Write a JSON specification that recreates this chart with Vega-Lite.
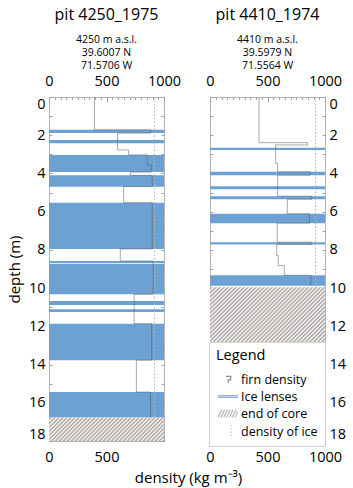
{
  "$schema": "https://vega.github.io/schema/vega-lite/v6.json",
  "padding": {"left": 6, "top": 6, "right": 3, "bottom": 4},
  "bounds": "flush",
  "spacing": 46,
  "config": {
    "font": "Open Sans",
    "view": {"stroke": "#b3b3b3", "strokeWidth": 1},
    "axis": {"domain": false, "grid": false, "labelFontSize": 14.5, "labelColor": "#000", "labelFont": "Open Sans", "labelFlush": false, "labelOverlap": false, "tickColor": "#a0a0a0", "titleFontWeight": "normal", "titleFontSize": 15, "titleColor": "#000", "titleFont": "Open Sans", "zindex": 1},
    "axisY": {"labelFlush": true},
    "title": {"fontSize": 16, "fontWeight": "normal", "color": "#000", "font": "Open Sans", "subtitleFont": "Open Sans", "subtitleFontSize": 10.5, "subtitleColor": "#000", "subtitlePadding": 12, "subtitleLineHeight": 13, "offset": -1, "anchor": "middle", "frame": "group"}
  },
  "resolve": {"scale": {"color": "independent", "shape": "independent"}},
  "hconcat": [
    {
      "width": 115,
      "height": 344,
      "title": {"text": "pit 4250_1975", "subtitle": ["4250 m a.s.l.", "39.6007 N", "71.5706 W"]},
      "resolve": {"axis": {"x": "independent", "y": "independent"}},
      "layer": [
        {
          "data": {"values": [{"top": 1.72, "bottom": 1.89}, {"top": 2.25, "bottom": 2.42}, {"top": 3.03, "bottom": 3.93}, {"top": 4.10, "bottom": 4.69}, {"top": 5.53, "bottom": 7.95}, {"top": 8.58, "bottom": 8.70}, {"top": 8.74, "bottom": 10.32}, {"top": 10.67, "bottom": 10.89}, {"top": 11.10, "bottom": 11.25}, {"top": 11.86, "bottom": 13.77}, {"top": 15.44, "bottom": 16.77}]},
          "mark": {"type": "rect", "fill": "#6ca1d3"},
          "encoding": {
            "x": {"datum": 0, "type": "quantitative", "scale": {"domain": [0, 1000], "nice": false}, "axis": {"orient": "top", "values": [0, 50, 100, 150, 200, 250, 300, 350, 400, 450, 500, 550, 600, 650, 700, 750, 800, 850, 900, 950, 1000], "format": "d", "labelExpr": "datum.value % 500 === 0 ? datum.label : ''", "tickSize": {"condition": {"test": "datum.value % 500 === 0", "value": -5}, "value": -2.5}, "labelPadding": 14, "title": null}},
            "x2": {"datum": 1000},
            "y": {"field": "top", "type": "quantitative", "scale": {"domain": [0, 18], "reverse": true, "nice": false}, "axis": {"orient": "left", "values": [0, 1, 2, 3, 4, 5, 6, 7, 8, 9, 10, 11, 12, 13, 14, 15, 16, 17, 18], "labelExpr": "datum.value % 2 === 0 ? datum.label : ''", "tickSize": -3, "labelPadding": 7, "title": "depth (m)", "titlePadding": 6}},
            "y2": {"field": "bottom"}
          }
        },
        {
          "data": {"values": [{"ice": 917}]},
          "mark": {"type": "rule", "color": "#b5b5b5", "strokeDash": [1.5, 2], "strokeWidth": 1},
          "encoding": {"x": {"field": "ice", "type": "quantitative", "axis": null}}
        },
        {
          "data": {"values": [
            {"i": 0, "density": 395, "depth": 0}, {"i": 1, "density": 395, "depth": 1.72}, {"i": 2, "density": 883, "depth": 1.72}, {"i": 3, "density": 883, "depth": 1.89},
            {"i": 4, "density": 596, "depth": 1.89}, {"i": 5, "density": 596, "depth": 2.77}, {"i": 6, "density": 693, "depth": 2.77}, {"i": 7, "density": 693, "depth": 3.03},
            {"i": 8, "density": 854, "depth": 3.03}, {"i": 9, "density": 854, "depth": 3.56}, {"i": 10, "density": 889, "depth": 3.56}, {"i": 11, "density": 889, "depth": 3.93},
            {"i": 12, "density": 708, "depth": 3.93}, {"i": 13, "density": 708, "depth": 4.10}, {"i": 14, "density": 898, "depth": 4.10}, {"i": 15, "density": 898, "depth": 4.69},
            {"i": 16, "density": 649, "depth": 4.69}, {"i": 17, "density": 649, "depth": 5.53}, {"i": 18, "density": 898, "depth": 5.53}, {"i": 19, "density": 898, "depth": 7.95},
            {"i": 20, "density": 620, "depth": 7.95}, {"i": 21, "density": 620, "depth": 8.58}, {"i": 22, "density": 906, "depth": 8.58}, {"i": 23, "density": 906, "depth": 10.32},
            {"i": 24, "density": 740, "depth": 10.32}, {"i": 25, "density": 740, "depth": 11.86}, {"i": 26, "density": 892, "depth": 11.86}, {"i": 27, "density": 892, "depth": 13.77},
            {"i": 28, "density": 760, "depth": 13.77}, {"i": 29, "density": 760, "depth": 15.44}, {"i": 30, "density": 883, "depth": 15.44}, {"i": 31, "density": 883, "depth": 16.77}
          ]},
          "mark": {"type": "line", "color": "#555555", "opacity": 0.5, "strokeWidth": 1},
          "encoding": {
            "x": {"field": "density", "type": "quantitative", "axis": {"orient": "bottom", "values": [0, 50, 100, 150, 200, 250, 300, 350, 400, 450, 500, 550, 600, 650, 700, 750, 800, 850, 900, 950, 1000], "format": "d", "labelExpr": "datum.value === 0 || datum.value === 500 ? datum.label : ''", "tickSize": {"condition": {"test": "datum.value % 500 === 0", "value": -5}, "value": -2.5}, "labelPadding": 14, "title": "density (kg m⁻³)", "titleX": 139, "titleY": 41, "titleAlign": "center", "titleBaseline": "alphabetic"}},
            "y": {"field": "depth", "type": "quantitative", "axis": {"orient": "right", "values": [0, 1, 2, 3, 4, 5, 6, 7, 8, 9, 10, 11, 12, 13, 14, 15, 16, 17, 18], "labels": false, "tickSize": -3, "title": null}},
            "order": {"field": "i"}
          }
        },
        {
          "data": {"values": [{"top": 16.77, "bottom": 18}]},
          "mark": {"type": "rect", "fill": {"gradient": "linear", "x1": 0, "y1": 0, "x2": 1.668, "y2": 0.3412, "stops": [
            {"offset": 0, "color": "#fff"}, {"offset": 0.01, "color": "#a29d98"}, {"offset": 0.02, "color": "#fff"}, {"offset": 0.03, "color": "#a29d98"}, {"offset": 0.04, "color": "#fff"}, {"offset": 0.05, "color": "#a29d98"}, {"offset": 0.06, "color": "#fff"}, {"offset": 0.07, "color": "#a29d98"}, {"offset": 0.08, "color": "#fff"}, {"offset": 0.09, "color": "#a29d98"},
            {"offset": 0.1, "color": "#fff"}, {"offset": 0.11, "color": "#a29d98"}, {"offset": 0.12, "color": "#fff"}, {"offset": 0.13, "color": "#a29d98"}, {"offset": 0.14, "color": "#fff"}, {"offset": 0.15, "color": "#a29d98"}, {"offset": 0.16, "color": "#fff"}, {"offset": 0.17, "color": "#a29d98"}, {"offset": 0.18, "color": "#fff"}, {"offset": 0.19, "color": "#a29d98"},
            {"offset": 0.2, "color": "#fff"}, {"offset": 0.21, "color": "#a29d98"}, {"offset": 0.22, "color": "#fff"}, {"offset": 0.23, "color": "#a29d98"}, {"offset": 0.24, "color": "#fff"}, {"offset": 0.25, "color": "#a29d98"}, {"offset": 0.26, "color": "#fff"}, {"offset": 0.27, "color": "#a29d98"}, {"offset": 0.28, "color": "#fff"}, {"offset": 0.29, "color": "#a29d98"},
            {"offset": 0.3, "color": "#fff"}, {"offset": 0.31, "color": "#a29d98"}, {"offset": 0.32, "color": "#fff"}, {"offset": 0.33, "color": "#a29d98"}, {"offset": 0.34, "color": "#fff"}, {"offset": 0.35, "color": "#a29d98"}, {"offset": 0.36, "color": "#fff"}, {"offset": 0.37, "color": "#a29d98"}, {"offset": 0.38, "color": "#fff"}, {"offset": 0.39, "color": "#a29d98"},
            {"offset": 0.4, "color": "#fff"}, {"offset": 0.41, "color": "#a29d98"}, {"offset": 0.42, "color": "#fff"}, {"offset": 0.43, "color": "#a29d98"}, {"offset": 0.44, "color": "#fff"}, {"offset": 0.45, "color": "#a29d98"}, {"offset": 0.46, "color": "#fff"}, {"offset": 0.47, "color": "#a29d98"}, {"offset": 0.48, "color": "#fff"}, {"offset": 0.49, "color": "#a29d98"},
            {"offset": 0.5, "color": "#fff"}, {"offset": 0.51, "color": "#a29d98"}, {"offset": 0.52, "color": "#fff"}, {"offset": 0.53, "color": "#a29d98"}, {"offset": 0.54, "color": "#fff"}, {"offset": 0.55, "color": "#a29d98"}, {"offset": 0.56, "color": "#fff"}, {"offset": 0.57, "color": "#a29d98"}, {"offset": 0.58, "color": "#fff"}, {"offset": 0.59, "color": "#a29d98"},
            {"offset": 0.6, "color": "#fff"}, {"offset": 0.61, "color": "#a29d98"}, {"offset": 0.62, "color": "#fff"}, {"offset": 0.63, "color": "#a29d98"}, {"offset": 0.64, "color": "#fff"}, {"offset": 0.65, "color": "#a29d98"}, {"offset": 0.66, "color": "#fff"}, {"offset": 0.67, "color": "#a29d98"}, {"offset": 0.68, "color": "#fff"}, {"offset": 0.69, "color": "#a29d98"},
            {"offset": 0.7, "color": "#fff"}, {"offset": 0.71, "color": "#a29d98"}, {"offset": 0.72, "color": "#fff"}, {"offset": 0.73, "color": "#a29d98"}, {"offset": 0.74, "color": "#fff"}, {"offset": 0.75, "color": "#a29d98"}, {"offset": 0.76, "color": "#fff"}, {"offset": 0.77, "color": "#a29d98"}, {"offset": 0.78, "color": "#fff"}, {"offset": 0.79, "color": "#a29d98"},
            {"offset": 0.8, "color": "#fff"}, {"offset": 0.81, "color": "#a29d98"}, {"offset": 0.82, "color": "#fff"}, {"offset": 0.83, "color": "#a29d98"}, {"offset": 0.84, "color": "#fff"}, {"offset": 0.85, "color": "#a29d98"}, {"offset": 0.86, "color": "#fff"}, {"offset": 0.87, "color": "#a29d98"}, {"offset": 0.88, "color": "#fff"}, {"offset": 0.89, "color": "#a29d98"},
            {"offset": 0.9, "color": "#fff"}, {"offset": 0.91, "color": "#a29d98"}, {"offset": 0.92, "color": "#fff"}, {"offset": 0.93, "color": "#a29d98"}, {"offset": 0.94, "color": "#fff"}, {"offset": 0.95, "color": "#a29d98"}, {"offset": 0.96, "color": "#fff"}, {"offset": 0.97, "color": "#a29d98"}, {"offset": 0.98, "color": "#fff"}, {"offset": 0.99, "color": "#a29d98"},
            {"offset": 1, "color": "#fff"}
          ]}},
          "encoding": {
            "x": {"datum": 0, "type": "quantitative", "axis": null},
            "x2": {"datum": 1000},
            "y": {"field": "top", "type": "quantitative", "axis": null},
            "y2": {"field": "bottom"}
          }
        }
      ]
    },
    {
      "width": 115,
      "height": 344,
      "title": {"text": "pit 4410_1974", "subtitle": ["4410 m a.s.l.", "39.5979 N", "71.5564 W"]},
      "resolve": {"axis": {"x": "independent", "y": "independent"}},
      "layer": [
        {
          "data": {"values": [{"top": 2.65, "bottom": 2.77}, {"top": 3.91, "bottom": 4.09}, {"top": 4.67, "bottom": 4.83}, {"top": 5.19, "bottom": 5.35}, {"top": 6.11, "bottom": 6.60}, {"top": 7.60, "bottom": 7.72}, {"top": 9.33, "bottom": 9.88}]},
          "mark": {"type": "rect", "fill": "#6ca1d3"},
          "encoding": {
            "x": {"datum": 0, "type": "quantitative", "scale": {"domain": [0, 1000], "nice": false}, "axis": {"orient": "top", "values": [0, 50, 100, 150, 200, 250, 300, 350, 400, 450, 500, 550, 600, 650, 700, 750, 800, 850, 900, 950, 1000], "format": "d", "labelExpr": "datum.value % 500 === 0 ? datum.label : ''", "tickSize": {"condition": {"test": "datum.value % 500 === 0", "value": -5}, "value": -2.5}, "labelPadding": 14, "title": null}},
            "x2": {"datum": 1000},
            "y": {"field": "top", "type": "quantitative", "scale": {"domain": [0, 18], "reverse": true, "nice": false}, "axis": {"orient": "left", "values": [0, 1, 2, 3, 4, 5, 6, 7, 8, 9, 10, 11, 12, 13, 14, 15, 16, 17, 18], "labels": false, "tickSize": -3, "title": null}},
            "y2": {"field": "bottom"}
          }
        },
        {
          "data": {"values": [{"ice": 917}]},
          "mark": {"type": "rule", "color": "#b5b5b5", "strokeDash": [1.5, 2], "strokeWidth": 1},
          "encoding": {"x": {"field": "ice", "type": "quantitative", "axis": null}}
        },
        {
          "data": {"values": [
            {"i": 0, "density": 426, "depth": 0}, {"i": 1, "density": 426, "depth": 2.39}, {"i": 2, "density": 849, "depth": 2.39}, {"i": 3, "density": 849, "depth": 2.51},
            {"i": 4, "density": 571, "depth": 2.51}, {"i": 5, "density": 571, "depth": 3.47}, {"i": 6, "density": 588, "depth": 3.47}, {"i": 7, "density": 588, "depth": 3.91},
            {"i": 8, "density": 870, "depth": 3.91}, {"i": 9, "density": 870, "depth": 4.09}, {"i": 10, "density": 588, "depth": 4.09}, {"i": 11, "density": 588, "depth": 5.19},
            {"i": 12, "density": 884, "depth": 5.19}, {"i": 13, "density": 884, "depth": 5.35}, {"i": 14, "density": 672, "depth": 5.35}, {"i": 15, "density": 672, "depth": 6.11},
            {"i": 16, "density": 864, "depth": 6.11}, {"i": 17, "density": 864, "depth": 6.60}, {"i": 18, "density": 585, "depth": 6.60}, {"i": 19, "density": 585, "depth": 7.60},
            {"i": 20, "density": 884, "depth": 7.60}, {"i": 21, "density": 884, "depth": 7.72}, {"i": 22, "density": 580, "depth": 7.72}, {"i": 23, "density": 580, "depth": 8.30},
            {"i": 24, "density": 594, "depth": 8.30}, {"i": 25, "density": 594, "depth": 8.82}, {"i": 26, "density": 646, "depth": 8.82}, {"i": 27, "density": 646, "depth": 9.33},
            {"i": 28, "density": 878, "depth": 9.33}, {"i": 29, "density": 878, "depth": 9.88}
          ]},
          "mark": {"type": "line", "color": "#555555", "opacity": 0.5, "strokeWidth": 1},
          "encoding": {
            "x": {"field": "density", "type": "quantitative", "axis": {"orient": "bottom", "values": [0, 50, 100, 150, 200, 250, 300, 350, 400, 450, 500, 550, 600, 650, 700, 750, 800, 850, 900, 950, 1000], "format": "d", "labelExpr": "datum.value % 500 === 0 ? datum.label : ''", "tickSize": {"condition": {"test": "datum.value % 500 === 0", "value": -5}, "value": -2.5}, "labelPadding": 14, "title": null}},
            "y": {"field": "depth", "type": "quantitative", "axis": {"orient": "right", "values": [0, 1, 2, 3, 4, 5, 6, 7, 8, 9, 10, 11, 12, 13, 14, 15, 16, 17, 18], "labelExpr": "datum.value % 2 === 0 ? datum.label : ''", "tickSize": -3, "labelPadding": 7, "title": null}},
            "order": {"field": "i"}
          }
        },
        {
          "data": {"values": [{"top": 9.95, "bottom": 18}]},
          "mark": {"type": "rect", "fill": {"gradient": "linear", "x1": 0, "y1": 0, "x2": 0.6248, "y2": 0.8372, "stops": [
            {"offset": 0, "color": "#fff"}, {"offset": 0.01, "color": "#a29d98"}, {"offset": 0.02, "color": "#fff"}, {"offset": 0.03, "color": "#a29d98"}, {"offset": 0.04, "color": "#fff"}, {"offset": 0.05, "color": "#a29d98"}, {"offset": 0.06, "color": "#fff"}, {"offset": 0.07, "color": "#a29d98"}, {"offset": 0.08, "color": "#fff"}, {"offset": 0.09, "color": "#a29d98"},
            {"offset": 0.1, "color": "#fff"}, {"offset": 0.11, "color": "#a29d98"}, {"offset": 0.12, "color": "#fff"}, {"offset": 0.13, "color": "#a29d98"}, {"offset": 0.14, "color": "#fff"}, {"offset": 0.15, "color": "#a29d98"}, {"offset": 0.16, "color": "#fff"}, {"offset": 0.17, "color": "#a29d98"}, {"offset": 0.18, "color": "#fff"}, {"offset": 0.19, "color": "#a29d98"},
            {"offset": 0.2, "color": "#fff"}, {"offset": 0.21, "color": "#a29d98"}, {"offset": 0.22, "color": "#fff"}, {"offset": 0.23, "color": "#a29d98"}, {"offset": 0.24, "color": "#fff"}, {"offset": 0.25, "color": "#a29d98"}, {"offset": 0.26, "color": "#fff"}, {"offset": 0.27, "color": "#a29d98"}, {"offset": 0.28, "color": "#fff"}, {"offset": 0.29, "color": "#a29d98"},
            {"offset": 0.3, "color": "#fff"}, {"offset": 0.31, "color": "#a29d98"}, {"offset": 0.32, "color": "#fff"}, {"offset": 0.33, "color": "#a29d98"}, {"offset": 0.34, "color": "#fff"}, {"offset": 0.35, "color": "#a29d98"}, {"offset": 0.36, "color": "#fff"}, {"offset": 0.37, "color": "#a29d98"}, {"offset": 0.38, "color": "#fff"}, {"offset": 0.39, "color": "#a29d98"},
            {"offset": 0.4, "color": "#fff"}, {"offset": 0.41, "color": "#a29d98"}, {"offset": 0.42, "color": "#fff"}, {"offset": 0.43, "color": "#a29d98"}, {"offset": 0.44, "color": "#fff"}, {"offset": 0.45, "color": "#a29d98"}, {"offset": 0.46, "color": "#fff"}, {"offset": 0.47, "color": "#a29d98"}, {"offset": 0.48, "color": "#fff"}, {"offset": 0.49, "color": "#a29d98"},
            {"offset": 0.5, "color": "#fff"}, {"offset": 0.51, "color": "#a29d98"}, {"offset": 0.52, "color": "#fff"}, {"offset": 0.53, "color": "#a29d98"}, {"offset": 0.54, "color": "#fff"}, {"offset": 0.55, "color": "#a29d98"}, {"offset": 0.56, "color": "#fff"}, {"offset": 0.57, "color": "#a29d98"}, {"offset": 0.58, "color": "#fff"}, {"offset": 0.59, "color": "#a29d98"},
            {"offset": 0.6, "color": "#fff"}, {"offset": 0.61, "color": "#a29d98"}, {"offset": 0.62, "color": "#fff"}, {"offset": 0.63, "color": "#a29d98"}, {"offset": 0.64, "color": "#fff"}, {"offset": 0.65, "color": "#a29d98"}, {"offset": 0.66, "color": "#fff"}, {"offset": 0.67, "color": "#a29d98"}, {"offset": 0.68, "color": "#fff"}, {"offset": 0.69, "color": "#a29d98"},
            {"offset": 0.7, "color": "#fff"}, {"offset": 0.71, "color": "#a29d98"}, {"offset": 0.72, "color": "#fff"}, {"offset": 0.73, "color": "#a29d98"}, {"offset": 0.74, "color": "#fff"}, {"offset": 0.75, "color": "#a29d98"}, {"offset": 0.76, "color": "#fff"}, {"offset": 0.77, "color": "#a29d98"}, {"offset": 0.78, "color": "#fff"}, {"offset": 0.79, "color": "#a29d98"},
            {"offset": 0.8, "color": "#fff"}, {"offset": 0.81, "color": "#a29d98"}, {"offset": 0.82, "color": "#fff"}, {"offset": 0.83, "color": "#a29d98"}, {"offset": 0.84, "color": "#fff"}, {"offset": 0.85, "color": "#a29d98"}, {"offset": 0.86, "color": "#fff"}, {"offset": 0.87, "color": "#a29d98"}, {"offset": 0.88, "color": "#fff"}, {"offset": 0.89, "color": "#a29d98"},
            {"offset": 0.9, "color": "#fff"}, {"offset": 0.91, "color": "#a29d98"}, {"offset": 0.92, "color": "#fff"}, {"offset": 0.93, "color": "#a29d98"}, {"offset": 0.94, "color": "#fff"}, {"offset": 0.95, "color": "#a29d98"}, {"offset": 0.96, "color": "#fff"}, {"offset": 0.97, "color": "#a29d98"}, {"offset": 0.98, "color": "#fff"}, {"offset": 0.99, "color": "#a29d98"},
            {"offset": 1, "color": "#fff"}
          ]}},
          "encoding": {
            "x": {"datum": 0, "type": "quantitative", "axis": null},
            "x2": {"datum": 1000},
            "y": {"field": "top", "type": "quantitative", "axis": null},
            "y2": {"field": "bottom"}
          }
        },
        {
          "data": {"values": [{"kind": "firn density"}, {"kind": "Ice lenses"}, {"kind": "end of core"}, {"kind": "density of ice"}]},
          "mark": {"type": "point", "filled": false, "opacity": 0},
          "encoding": {
            "color": {"field": "kind", "type": "nominal", "scale": {"domain": ["firn density", "Ice lenses", "end of core", "density of ice"], "range": ["#8a8a8a", "#8db0d8", "#bdb8b3", "#c4c4c4"]}, "legend": {"title": "Legend", "orient": "none", "legendX": -1, "legendY": 245, "titleFontSize": 14.5, "titleFontWeight": "normal", "titleColor": "#000", "titleFont": "Open Sans", "titlePadding": 8, "labelFontSize": 12.5, "labelColor": "#000", "labelFont": "Open Sans", "labelLimit": 200, "symbolSize": 200, "symbolStrokeWidth": 1.2, "symbolOpacity": 1, "labelOffset": 9, "rowPadding": 2, "padding": 7, "fillColor": "#fff", "strokeColor": "#cfcfcf"}},
            "shape": {"field": "kind", "type": "nominal", "scale": {"domain": ["firn density", "Ice lenses", "end of core", "density of ice"], "range": ["M0.3,-0.45H0.95V0.05H0.6V0.5", "M-0.85,-0.12H1.95M-0.85,0.12H1.95", "M-0.85,0.55L-0.3,-0.55M-0.45,0.55L0.1,-0.55M-0.05,0.55L0.5,-0.55M0.35,0.55L0.9,-0.55M0.75,0.55L1.3,-0.55M1.15,0.55L1.7,-0.55M1.55,0.55L1.95,-0.25", "M1,-0.9V-0.7M1,-0.45V-0.25M1,0V0.2M1,0.45V0.65"]}, "legend": {"title": "Legend", "orient": "none", "legendX": -1, "legendY": 245}}
          }
        }
      ]
    }
  ]
}
